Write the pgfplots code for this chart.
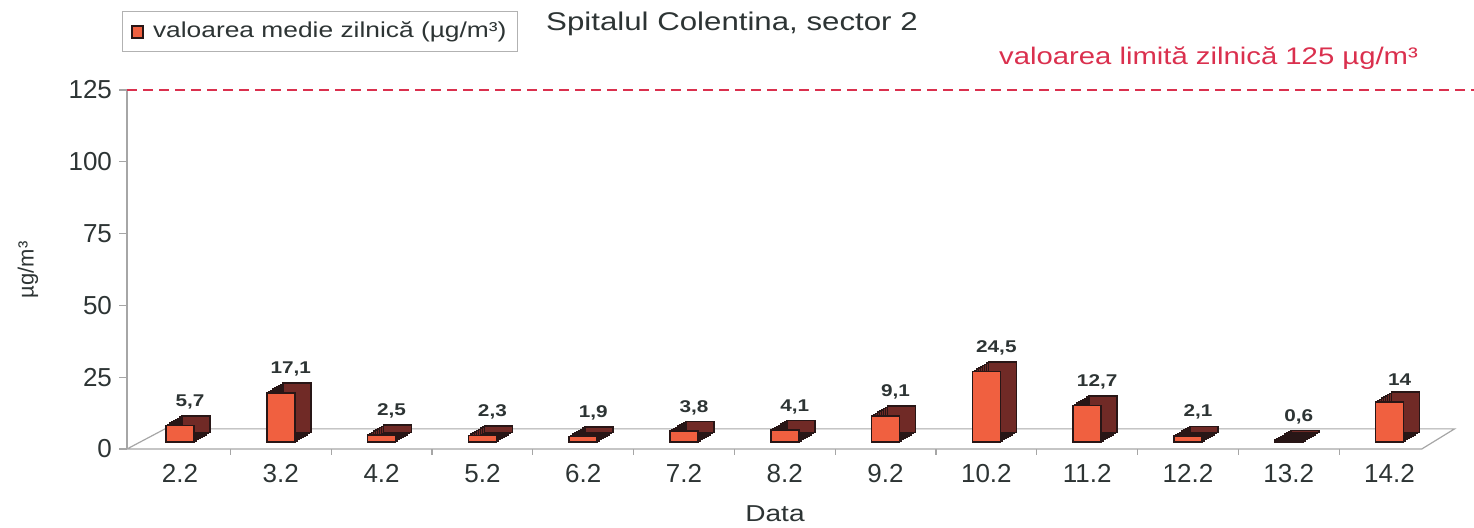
\documentclass[border=0pt]{standalone}
\usepackage{fontspec}
\setmainfont{Liberation Sans}
\newfontfamily\wide{Liberation Sans}[FakeStretch=1.22]
\usepackage{pgfplots}
\pgfplotsset{compat=1.18}
\usepackage{pgfplotstable}
\definecolor{barfront}{RGB}{240,96,64}
\definecolor{barside}{RGB}{112,42,38}
\definecolor{baredge}{RGB}{40,22,22}
\definecolor{txt}{RGB}{45,52,52}
\definecolor{limred}{RGB}{218,48,78}
\pgfplotstableread{
x y lab
0 5.7 5,7
1 17.1 17,1
2 2.5 2,5
3 2.3 2,3
4 1.9 1,9
5 3.8 3,8
6 4.1 4,1
7 9.1 9,1
8 24.5 24,5
9 12.7 12,7
10 2.1 2,1
11 0.6 0,6
12 14 14
}\data
\begin{document}
\begin{tikzpicture}
\path[use as bounding box] (0pt,0pt) rectangle (737pt,-264pt);
\begin{axis}[
  at={(63.5pt,-224.5pt)}, anchor=south west,
  scale only axis, width=661.5pt, height=179.5pt,
  xmin=-0.526, xmax=12.6, ymin=0, ymax=125,
  clip=false,
  axis x line*=bottom, axis y line*=left,
  x axis line style={draw=none},
  y axis line style={draw=gray!70, line width=0.6pt},
  xtick={0,...,12},
  xticklabels={2.2,3.2,4.2,5.2,6.2,7.2,8.2,9.2,10.2,11.2,12.2,13.2,14.2},
  x tick style={draw=none},
  ytick={0,25,50,75,100,125},
  y tick style={draw=gray!70, line width=0.6pt},
  tick align=outside, major tick length=4pt,
  tick label style={font=\fontsize{13}{15}\selectfont, text=txt},
  /pgf/number format/assume math mode=true,
]
\draw[gray!70, line width=0.6pt] (axis cs:-0.526,0) -- (axis cs:12.32,0) -- (axis cs:12.645,7) -- (axis cs:-0.149,7) -- cycle;
\pgfplotsinvokeforeach{0.5,1.5,...,11.5}{\draw[gray!70, line width=0.6pt] (axis cs:#1,0) -- ++(0pt,-3pt);}
\draw[limred, line width=1.3pt, dash pattern=on 5pt off 3pt] (axis cs:-0.526,125) -- (axis cs:12.84,125);
\pgfplotsinvokeforeach{0,1,2,3,4,5,6,7}{
\addplot[ybar, bar width=14pt, fill=barside, draw=baredge, line width=0.8pt,
  xshift={#1*1pt}, yshift={3.5pt+#1*0.6pt}]
  table[x=x,y=y]{\data};
}
\addplot[ybar, bar width=14pt, fill=barside, draw=baredge, line width=0.8pt, xshift=8pt, yshift=8.3pt,
  nodes near coords, point meta=explicit symbolic,
  nodes near coords style={font=\wide\bfseries\fontsize{8.5}{10}\selectfont, text=txt, anchor=south, inner sep=2pt, xshift=-3pt, yshift=1pt}]
  table[x=x,y=y,meta=lab]{\data};
\addplot[ybar, bar width=14pt, fill=barfront, draw=baredge, line width=0.8pt, yshift=3.5pt]
  table[x=x,y=y]{\data};
\end{axis}
\draw[gray!60, line width=0.5pt] (61pt,-6pt) rectangle (258.5pt,-26pt);
\draw[baredge, fill=barfront, line width=0.6pt] (66pt,-13pt) rectangle (71.5pt,-19pt);
\node[anchor=west, text=txt, font=\wide\fontsize{10.8}{13}\selectfont] at (73pt,-16pt) {valoarea medie zilnică (µg/m³)};
\node[text=txt, font=\wide\fontsize{12.8}{15}\selectfont] at (366pt,-12pt) {Spitalul Colentina, sector 2};
\node[anchor=east, text=limred, font=\wide\fontsize{12}{14}\selectfont] at (712.5pt,-29pt) {valoarea limită zilnică 125 µg/m³};
\node[rotate=90, text=txt, font=\fontsize{11}{13}\selectfont] at (14pt,-135pt) {µg/m³};
\node[text=txt, font=\wide\fontsize{11.5}{14}\selectfont] at (387.5pt,-257pt) {Data};
\end{tikzpicture}
\end{document}
